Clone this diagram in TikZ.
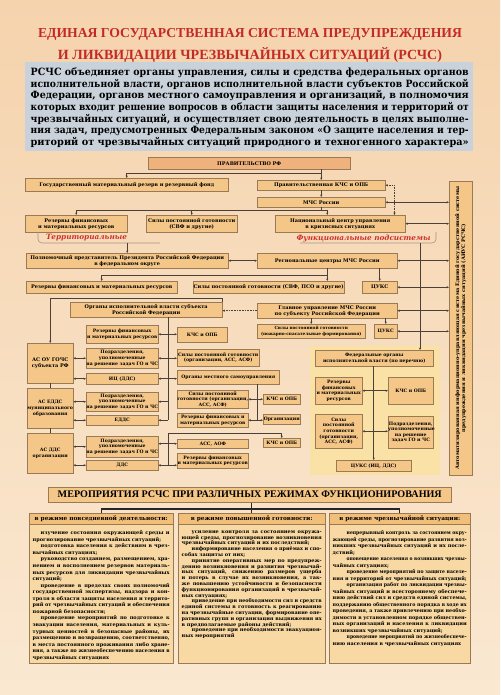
\documentclass[tikz,border=0pt]{standalone}
\usepackage{fontspec}
\setmainfont{DejaVu Serif}
\newfontfamily\tserif{Liberation Serif}
\usepackage{graphicx}
\usetikzlibrary{arrows.meta,calc,shadows}
\definecolor{bgtop}{HTML}{F5D3AD}
\definecolor{bgbot}{HTML}{FAE8D1}
\definecolor{titred}{HTML}{C42A25}
\definecolor{introbg}{HTML}{C9D2DA}
\definecolor{boxc}{HTML}{F4C687}
\definecolor{govc}{HTML}{EFB27C}
\definecolor{bord}{HTML}{9A7A55}
\definecolor{fedbg}{HTML}{FAE2A6}
\definecolor{lnc}{HTML}{4A4038}
\definecolor{labred}{HTML}{D0302C}
\definecolor{colhead}{HTML}{F2BF7B}
\definecolor{colbody}{HTML}{F8D9A3}
\definecolor{brkc}{HTML}{A89580}
\newlength\lw \newlength\pind \newlength\tmpw \newlength\tmpa
\newcommand\fitl[2]{\settowidth\tmpw{#2}\ifdim\tmpw>#1\relax\resizebox{#1}{\height}{#2}\else\makebox[#1][s]{#2}\fi}
\newcommand\jl[1]{\noindent\fitl{\lw}{#1}\par}
\newcommand\il[1]{\noindent\hspace*{\pind}\setlength\tmpa{\dimexpr\lw-\pind\relax}\fitl{\tmpa}{#1}\par}
\newcommand\lastl[1]{\noindent\settowidth\tmpw{#1}\ifdim\tmpw>\lw\relax\resizebox{\lw}{\height}{#1}\else#1\fi\par}
\newcommand\dfont{\fontsize{5.0}{6.0}\selectfont\bfseries}
\newcommand\dsmall{\fontsize{4.6}{5.6}\selectfont\bfseries}
\newcommand\dtiny{\fontsize{4.2}{5.2}\selectfont\bfseries}
\newcommand\mbx[7][]{\node[bx,text width=#5pt,minimum height=#6pt,#1] (#2) at (#3,#4) {#7};}
\begin{document}
\begin{tikzpicture}[x=1pt,y=-1pt,
  bx/.style={draw=bord, fill=boxc, line width=0.45pt, inner xsep=0pt, inner ysep=0.3pt, align=center, font=\dfont, anchor=north west, drop shadow={shadow xshift=0.6pt,shadow yshift=-0.6pt,fill=black!30}},
  govbox/.style={fill=govc},
  sm/.style={font=\dsmall},
  tn/.style={font=\dtiny},
  ln/.style={draw=lnc, line width=0.5pt},
  ar/.style={ln, -{Stealth[length=2.4pt,width=2.2pt]}},
  dar/.style={ln, {Stealth[length=2.4pt,width=2.2pt]}-{Stealth[length=2.4pt,width=2.2pt]}},
  dtar/.style={ln, dash pattern=on 0.8pt off 0.8pt, -{Stealth[length=2.4pt,width=2.2pt]}},
  brkl/.style={draw=brkc, line width=0.6pt, rounded corners=4pt},
  lab/.style={font=\fontsize{7.3}{8}\selectfont\bfseries\itshape, text=labred, inner sep=0},
  colbox/.style={draw=bord, fill=colbody, line width=0.5pt, anchor=north west, inner sep=0, drop shadow={shadow xshift=1pt,shadow yshift=-1pt,fill=black!35}},
  colhd/.style={draw=bord, fill=colhead, line width=0.5pt, anchor=north west, inner sep=0, font=\fontsize{5.8}{6.5}\selectfont\bfseries},
  colbt/.style={anchor=north west, inner sep=0, align=justify},
  bl/.style={draw=black!85, line width=1.1pt}
]
\useasboundingbox (0,0) rectangle (500,695);
\shade[top color=bgtop, bottom color=bgbot] (0,0) rectangle (500,695);

% title
\node[anchor=base, text=titred, inner sep=0] (t1) at (250,38) {\resizebox{424pt}{!}{\tserif\bfseries\fontsize{14}{16}\selectfont ЕДИНАЯ ГОСУДАРСТВЕННАЯ СИСТЕМА ПРЕДУПРЕЖДЕНИЯ}};
\node[anchor=base, text=titred, inner sep=0] (t2) at (250,60) {\resizebox{384pt}{!}{\tserif\bfseries\fontsize{14}{16}\selectfont И ЛИКВИДАЦИИ ЧРЕЗВЫЧАЙНЫХ СИТУАЦИЙ (РСЧС)}};

% intro
\node[fill=introbg, minimum width=448pt, minimum height=89pt, anchor=north west, inner sep=0] (introbox) at (25,62) {};
\node[anchor=north west, inner sep=0, text width=438pt, align=justify, font=\fontsize{10}{11.7}\selectfont\bfseries] (intro) at (30.5,67.5) {\setlength\lw{438pt}%
\jl{РСЧС объединяет органы управления, силы и средства федеральных органов}
\jl{исполнительной власти, органов исполнительной власти субъектов Российской}
\jl{Федерации, органов местного самоуправления и организаций, в полномочия}
\jl{которых входит решение вопросов в области защиты населения и территорий от}
\jl{чрезвычайных ситуаций, и осуществляет свою деятельность в целях выполне-}
\jl{ния задач, предусмотренных Федеральным законом «О защите населения и тер-}
\lastl{риторий от чрезвычайных ситуаций природного и техногенного характера»}};

% federal background
\node[fill=fedbg, minimum width=130pt, minimum height=129pt, anchor=north west, inner sep=0] (fedbg) at (310,346) {};

% boxes
\mbx[govbox]{gov}{148}{157}{202}{12}{ПРАВИТЕЛЬСТВО РФ}
\mbx{rez0}{25}{178}{203}{13}{Государственный материальный резерв и резервный фонд}
\mbx{kchs0}{257}{180}{128}{10}{Правительственная КЧС и ОПБ}
\mbx{mchs}{257}{197}{128}{10}{МЧС России}
\mbx{rez1}{25}{215}{102}{17}{Резервы финансовых\\и материальных ресурсов}
\mbx{sil1}{146}{215}{91}{17}{Силы постоянной готовности\\(СВФ и другие)}
\mbx{ncu}{275}{215}{130}{17}{Национальный центр управления\\в кризисных ситуациях}
\node[draw=bord, fill=boxc, line width=0.45pt, anchor=north west, inner sep=0, minimum width=23pt, minimum height=294pt, drop shadow={shadow xshift=0.6pt,shadow yshift=-0.6pt,fill=black!30}] (rv) at (449,181) {};
\node[font=\dfont, rotate=90, align=center, text width=288pt, inner sep=0] (rvt) at (rv.center) {Автоматизированная информационно-управляющая система Единой государственной системы\\предупреждения и ликвидации чрезвычайных ситуаций (АИУС РСЧС)};
\mbx{pp}{26}{253}{202}{15}{Полномочный представитель Президента Российской Федерации\\в федеральном округе}
\mbx{rc}{257}{253}{140}{15}{Региональные центры МЧС России}
\mbx{rez2}{26}{281}{151}{12}{Резервы финансовых и материальных ресурсов}
\mbx{sil2}{193}{281}{151}{12}{Силы постоянной готовности (СВФ, ПСО и другие)}
\mbx{cuks1}{362}{281}{35}{12}{ЦУКС}
\mbx{oiv}{70}{302}{152}{15}{Органы исполнительной власти субъекта\\Российской Федерации}
\mbx{gu}{257}{303}{140}{15}{Главное управление МЧС России\\по субъекту Российской Федерации}
\mbx[tn]{sil3}{257}{324}{108}{14}{Силы постоянной готовности\\(пожарно-спасательные формирования)}
\mbx[sm]{cuks2}{374}{324}{23}{14}{ЦУКС}

\mbx{asou}{27}{343}{46}{40}{АС ОУ ГОЧС\\субъекта РФ}
\mbx[sm]{rez3}{86}{325}{72}{18}{Резервы финансовых\\и материальных ресурсов}
\mbx[sm]{kchs1}{177}{327}{50}{15}{КЧС и ОПБ}
\mbx[sm]{pod1}{86}{348}{72}{20}{Подразделения,\\уполномоченные\\на решение задач ГО и ЧС}
\mbx[sm]{sil4}{177}{349}{82}{17}{Силы постоянной готовности\\(организации, АСС, АСФ)}
\mbx[sm]{ic}{86}{373}{72}{11}{ИЦ (ДДС)}
\mbx[sm]{oms}{177}{370}{102}{14}{Органы местного самоуправления}
\mbx[sm]{aseds}{27}{388}{46}{40}{АС ЕДДС\\муниципального\\образования}
\mbx[sm]{pod2}{86}{392}{72}{19}{Подразделения,\\уполномоченные\\на решение задач ГО и ЧС}
\mbx[sm]{sil5}{177}{390}{71}{18}{Силы постоянной\\готовности (организации,\\АСС, АСФ)}
\mbx[sm]{kchs2}{263}{394}{37}{10}{КЧС и ОПБ}
\mbx[sm]{edds}{86}{415}{72}{10}{ЕДДС}
\mbx[sm]{rez4}{177}{413}{71}{14}{Резервы финансовых и\\материальных ресурсов}
\mbx[sm]{org}{263}{414}{37}{10}{Организации}
\mbx[sm]{kchs3}{263}{438}{37}{9}{КЧС и ОПБ}
\mbx[sm]{asdds}{27}{433}{46}{40}{АС ДДС\\организации}
\mbx[sm]{pod3}{86}{436}{72}{21}{Подразделения,\\уполномоченные\\на решение задач ГО и ЧС}
\mbx[sm]{dds}{86}{460}{72}{10}{ДДС}
\mbx[sm]{ass}{177}{439}{71}{9}{АСС, АОФ}
\mbx[sm]{rez5}{177}{453}{71}{15}{Резервы финансовых\\и материальных ресурсов}

\mbx[sm]{foiv}{315}{350}{118}{16}{Федеральные органы\\исполнительной власти (по перечню)}
\mbx[sm]{rez6}{315}{377}{47}{27}{Резервы\\финансовых\\и материальных\\ресурсов}
\mbx[sm]{kchs4}{388}{377}{45}{27}{КЧС и ОПБ}
\mbx[sm]{sil6}{315}{414}{47}{34}{Силы\\постоянной\\готовности\\(организации,\\АСС, АСФ)}
\mbx[sm]{pod4}{388}{416}{45}{32}{Подразделения,\\уполномоченные\\на решение\\задач ГО и ЧС}
\mbx[sm]{cuks3}{336}{460}{75}{11}{ЦУКС (ИЦ, ДДС)}

% labels and brackets
\draw[brkl] (38,232) |- (160,243);
\node[lab] (lterr) at (86.5,238) {Территориальные};
\draw[brkl] (300,243) -| (436,232);
\node[lab] (lfunc) at (363.5,239) {Функциональные подсистемы};
\coordinate (tb) at (127,243);
\coordinate (fb) at (420,243);

% connectors top
\draw[ar] (gov.south -| kchs0.north) -- (kchs0.north);
\draw[ar] ($(kchs0.north)+(0,-7)$) -| (rez0.north);
\draw[ar] (kchs0.south) -- (mchs.north);
\coordinate (d1) at ($(kchs0.east)+(9,0)$);
\draw[dtar] (d1) -- (kchs0.east);
\draw[dtar] (d1) -- (d1 |- ncu.north);
\coordinate (b1) at ($(mchs.south)+(6,3)$);
\draw[ln] (mchs.south) -- (mchs.south |- b1);
\draw[ar] (b1) -- (b1 |- ncu.north);
\draw[ar] (b1) -| (rez1.north);
\draw[ar] (sil1.north |- b1) -- (sil1.north);
\draw[dar] (mchs.east) -- (mchs.east -| rv.west);
\draw[dar] (ncu.east) -- (ncu.east -| rv.west);
\draw[ar] (pp.north |- tb) -- (pp.north);
\draw[ar] (fb) -- (fb |- foiv.north);
\draw[dar] (rc.west) -- (rc.west -| pp.east);
\draw[dar] (rc.east) -- (rc.east -| rv.west);
\coordinate (b2) at ($(rc.south)+(0,7)$);
\draw[ar] (rc.south) -- (rc.south |- sil2.north);
\draw[ar] (b2) -| (rez2.north);
\draw[ar] (rc.south -| cuks1.north) -- (cuks1.north);
\draw[dar] (cuks1.east) -- (cuks1.east -| rv.west);
\draw[dar] (gu.east) -- (gu.east -| rv.west);
\draw[dtar] (gu.west) -- (gu.west -| oiv.east);
\draw[ar] (gu.south -| sil3.north) -- (sil3.north);
\draw[ar] (gu.south -| cuks2.north) -- (cuks2.north);
\draw[dar] (cuks2.east) -- (cuks2.east -| rv.west);

% left stack
\draw[ar] (oiv.north east) -- ++(0,-4) -| (asou.north);
\coordinate (v1) at (168,420);
\coordinate (v3) at (168,433);
\coordinate (v2) at (257,420);
\draw[ln] (v1 |- oiv.south) -- (v1);
\draw[dar] (rez3.east) -- (rez3.east -| kchs1.west);
\draw[dar] (pod1.east) -- (pod1.east -| sil4.west);
\draw[dar] (asou.east |- pod1.west) -- (pod1.west);
\draw[dar] (asou.east |- ic.west) -- (ic.west);
\draw[dar] (ic.east) -- (ic.east -| oms.west);
\draw[ar] (v1 |- pod2.east) -- (pod2.east);
\draw[dar] (aseds.east |- pod2.west) -- (pod2.west);
\draw[dar] (aseds.east |- edds.west) -- (edds.west);
\draw[ar] (v1 |- edds.east) -- (edds.east);
\draw[ln] (asou.south) -- (aseds.north);
\draw[ln] (aseds.south) -- (asdds.north);
\draw[ln] (v2 |- oms.south) -- (v2);
\draw[dar] (sil5.east) -- (sil5.east -| kchs2.west);
\draw[dar] (rez4.east) -- (rez4.east -| org.west);
\draw[ar] (v3) -| (kchs3.north);
\draw[ln] (v3) -- (v3 |- dds.east);
\draw[dar] (pod3.east |- ass.west) -- (ass.west);
\draw[dar] (dds.east) -- (dds.east -| rez5.west);
\draw[dar] (asdds.east |- pod3.west) -- (pod3.west);
\draw[dar] (asdds.east |- dds.west) -- (dds.west);

% federal
\draw[ar] (cuks3.north |- foiv.south) -- (cuks3.north);
\draw[dar] (rez6.east) -- (rez6.east -| kchs4.west);
\draw[dar] (sil6.east) -- (sil6.east -| pod4.west);

% bottom
\node[draw=bord, fill=boxc, line width=0.5pt, anchor=north west, inner sep=0, minimum width=403pt, minimum height=15pt, drop shadow={shadow xshift=1pt,shadow yshift=-1pt,fill=black!35}] (mer) at (48,487) {\resizebox{384pt}{!}{\tserif\bfseries\fontsize{11}{12}\selectfont МЕРОПРИЯТИЯ РСЧС ПРИ РАЗЛИЧНЫХ РЕЖИМАХ ФУНКЦИОНИРОВАНИЯ}};

\node[colbox, minimum width=144pt, minimum height=150pt] (col1) at (29,513) {};
\node[colbox, minimum width=147pt, minimum height=150pt] (col2) at (178,513) {};
\node[colbox, minimum width=141pt, minimum height=150pt] (col3) at (329,513) {};
\node[colhd, minimum width=144pt, minimum height=11pt] (h1) at (col1.north west) {в режиме повседневной деятельности:};
\node[colhd, minimum width=147pt, minimum height=11pt] (h2) at (col2.north west) {в режиме повышенной готовности:};
\node[colhd, minimum width=141pt, minimum height=11pt] (h3) at (col3.north west) {в режиме чрезвычайной ситуации:};

\coordinate (mb) at ($(col2.north)+(0,-4)$);
\draw[bl] (mer.south -| col2.north) -- (col2.north);
\draw[bl] (col1.north) |- (mb) -| (col3.north);

\node[colbt, text width=137pt, font=\fontsize{5.0}{6.55}\selectfont\bfseries] (bt1) at ($(col1.north west)+(3.5,17.5)$) {\setlength\lw{137pt}\setlength\pind{8pt}%
\il{изучение состояния окружающей среды и}
\lastl{прогнозирование чрезвычайных ситуаций;}
\il{подготовка населения к действиям в чрез-}
\lastl{вычайных ситуациях;}
\il{руководство созданием, размещением, хра-}
\jl{нением и восполнением резервов материаль-}
\jl{ных ресурсов для ликвидации чрезвычайных}
\lastl{ситуаций;}
\il{проведение в пределах своих полномочий}
\jl{государственной экспертизы, надзора и кон-}
\jl{троля в области защиты населения и террито-}
\jl{рий от чрезвычайных ситуаций и обеспечения}
\lastl{пожарной безопасности;}
\il{проведение мероприятий по подготовке к}
\jl{эвакуации населения, материальных и куль-}
\jl{турных ценностей в безопасные районы, их}
\jl{размещению и возвращению, соответственно,}
\jl{в места постоянного проживания либо хране-}
\jl{ния, а также по жизнеобеспечению населения в}
\lastl{чрезвычайных ситуациях}};

\node[colbt, text width=140pt, font=\fontsize{5.0}{5.8}\selectfont\bfseries] (bt2) at ($(col2.north west)+(3.5,17.5)$) {\setlength\lw{140pt}\setlength\pind{10pt}%
\il{усиление контроля за состоянием окружа-}
\jl{ющей среды, прогнозирование возникновения}
\lastl{чрезвычайных ситуаций и их последствий;}
\il{информирование населения о приёмах и спо-}
\lastl{собах защиты от них;}
\il{принятие оперативных мер по предупреж-}
\jl{дению возникновения и развития чрезвычай-}
\jl{ных ситуаций, снижению размеров ущерба}
\jl{и потерь в случае их возникновения, а так-}
\jl{же повышению устойчивости и безопасности}
\jl{функционирования организаций в чрезвычай-}
\lastl{ных ситуациях;}
\il{приведение при необходимости сил и средств}
\jl{единой системы в готовность к реагированию}
\jl{на чрезвычайные ситуации, формирование опе-}
\jl{ративных групп и организация выдвижения их}
\lastl{в предполагаемые районы действий;}
\il{проведение при необходимости эвакуацион-}
\lastl{ных мероприятий}};

\node[colbt, text width=134pt, font=\fontsize{5.0}{6.5}\selectfont\bfseries] (bt3) at ($(col3.north west)+(3.5,17.5)$) {\setlength\lw{134pt}\setlength\pind{14pt}%
\il{непрерывный контроль за состоянием окру-}
\jl{жающей среды, прогнозирование развития воз-}
\jl{никших чрезвычайных ситуаций и их после-}
\lastl{дствий;}
\il{оповещение населения о возникших чрезвы-}
\lastl{чайных ситуациях;}
\il{проведение мероприятий по защите населе-}
\lastl{ния и территорий от чрезвычайных ситуаций;}
\il{организация работ по ликвидации чрезвы-}
\jl{чайных ситуаций и всестороннему обеспече-}
\jl{нию действий сил и средств единой системы,}
\jl{поддержанию общественного порядка в ходе их}
\jl{проведения, а также привлечению при необхо-}
\jl{димости в установленном порядке обществен-}
\jl{ных организаций и населения к ликвидации}
\lastl{возникших чрезвычайных ситуаций;}
\il{проведение мероприятий по жизнеобеспече-}
\lastl{нию населения в чрезвычайных ситуациях}};
\end{tikzpicture}
\end{document}
